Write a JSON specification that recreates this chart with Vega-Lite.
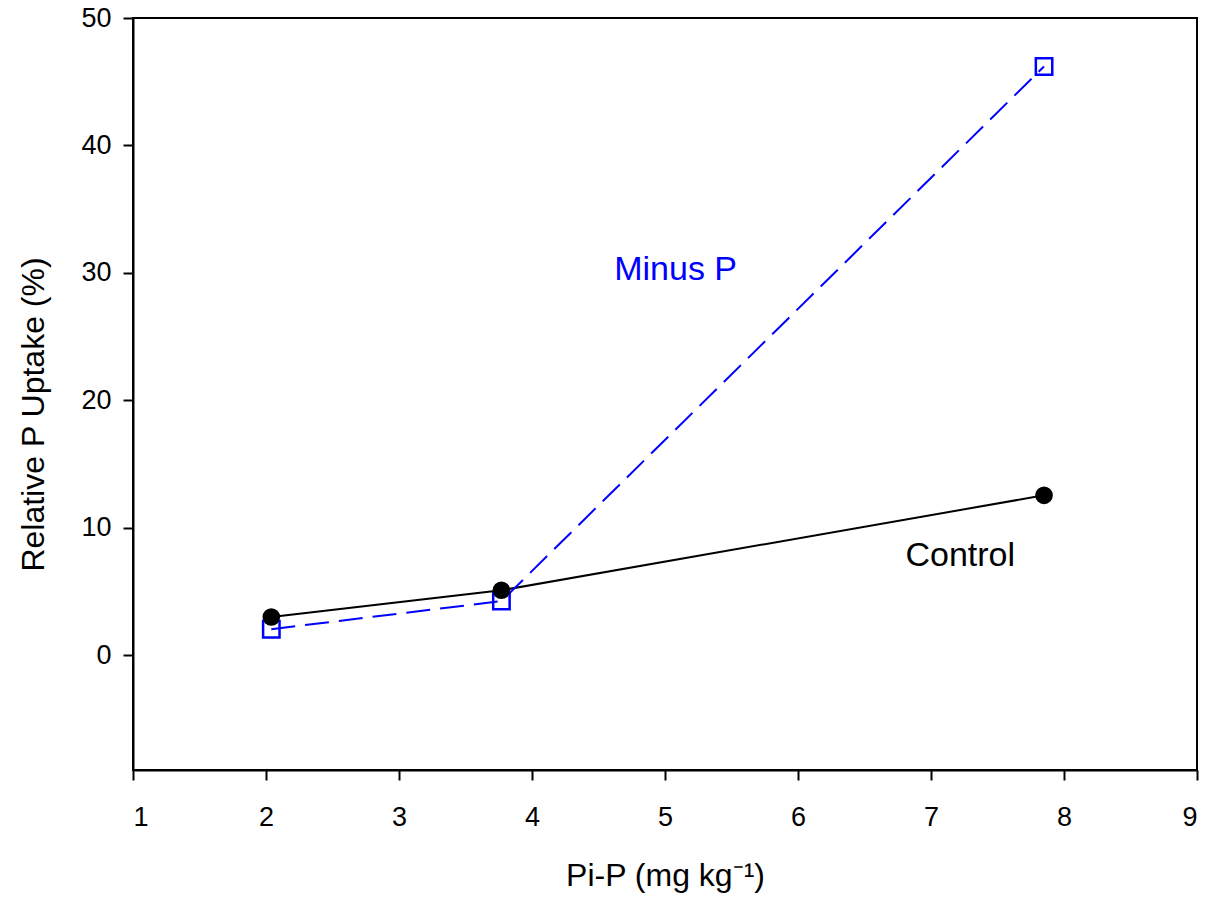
{
  "$schema": "https://vega.github.io/schema/vega-lite/v6.json",
  "width": 1064,
  "height": 752,
  "autosize": "none",
  "padding": {"left": 133, "top": 18, "right": 15, "bottom": 135},
  "background": "white",
  "config": {
    "font": "Liberation Sans",
    "view": {"stroke": "black", "strokeWidth": 2},
    "axis": {
      "grid": false,
      "domainColor": "black",
      "domainWidth": 2,
      "tickColor": "black",
      "tickWidth": 2,
      "tickSize": 10,
      "labelFont": "Liberation Sans",
      "labelFontSize": 27,
      "labelColor": "black",
      "titleFont": "Liberation Sans",
      "titleFontSize": 32,
      "titleFontWeight": "normal",
      "titleColor": "black"
    }
  },
  "datasets": {
    "series": [
      {"pi": 2.04, "uptake": 3.0, "treatment": "Control"},
      {"pi": 3.77, "uptake": 5.1, "treatment": "Control"},
      {"pi": 7.85, "uptake": 12.55, "treatment": "Control"},
      {"pi": 2.04, "uptake": 2.05, "treatment": "Minus P"},
      {"pi": 3.77, "uptake": 4.25, "treatment": "Minus P"},
      {"pi": 7.85, "uptake": 46.2, "treatment": "Minus P"}
    ],
    "labels": [
      {"pi": 5.08, "uptake": 30.2, "label": "Minus P", "treatment": "Minus P"},
      {"pi": 7.22, "uptake": 7.8, "label": "Control", "treatment": "Control"}
    ]
  },
  "layer": [
    {
      "data": {"name": "series"},
      "transform": [{"filter": "datum.treatment === 'Control'"}],
      "mark": {"type": "line", "color": "black", "strokeWidth": 2},
      "encoding": {
        "x": {"field": "pi", "type": "quantitative", "scale": {"domain": [1, 9], "nice": false, "zero": false},
          "axis": {"values": [1, 2, 3, 4, 5, 6, 7, 8, 9], "format": "d", "title": "Pi-P (mg kg⁻¹)", "labelPadding": 24, "labelBaseline": "top", "titleY": 115, "titleBaseline": "alphabetic"}},
        "y": {"field": "uptake", "type": "quantitative", "scale": {"domain": [-9, 50], "nice": false, "zero": false},
          "axis": {"values": [0, 10, 20, 30, 40, 50], "title": "Relative P Uptake (%)", "labelPadding": 12, "titleX": -90, "titleY": 396, "titleBaseline": "alphabetic"}}
      }
    },
    {
      "data": {"name": "series"},
      "transform": [{"filter": "datum.treatment === 'Minus P'"}],
      "mark": {"type": "line", "color": "#0000FF", "strokeWidth": 2, "strokeDash": [24, 10]},
      "encoding": {
        "x": {"field": "pi", "type": "quantitative"},
        "y": {"field": "uptake", "type": "quantitative"}
      }
    },
    {
      "data": {"name": "series"},
      "transform": [{"filter": "datum.treatment === 'Minus P'"}],
      "mark": {"type": "point", "shape": "square", "filled": false, "color": "#0000FF", "strokeWidth": 2.5, "size": 270, "opacity": 1},
      "encoding": {
        "x": {"field": "pi", "type": "quantitative"},
        "y": {"field": "uptake", "type": "quantitative"}
      }
    },
    {
      "data": {"name": "series"},
      "transform": [{"filter": "datum.treatment === 'Control'"}],
      "mark": {"type": "point", "shape": "circle", "filled": true, "color": "black", "size": 310, "opacity": 1},
      "encoding": {
        "x": {"field": "pi", "type": "quantitative"},
        "y": {"field": "uptake", "type": "quantitative"}
      }
    },
    {
      "data": {"name": "labels"},
      "mark": {"type": "text", "fontSize": 34, "font": "Liberation Sans", "align": "center", "baseline": "middle"},
      "encoding": {
        "x": {"field": "pi", "type": "quantitative"},
        "y": {"field": "uptake", "type": "quantitative"},
        "text": {"field": "label"},
        "color": {"field": "treatment", "type": "nominal", "scale": {"domain": ["Control", "Minus P"], "range": ["black", "#0000FF"]}, "legend": null}
      }
    }
  ]
}
